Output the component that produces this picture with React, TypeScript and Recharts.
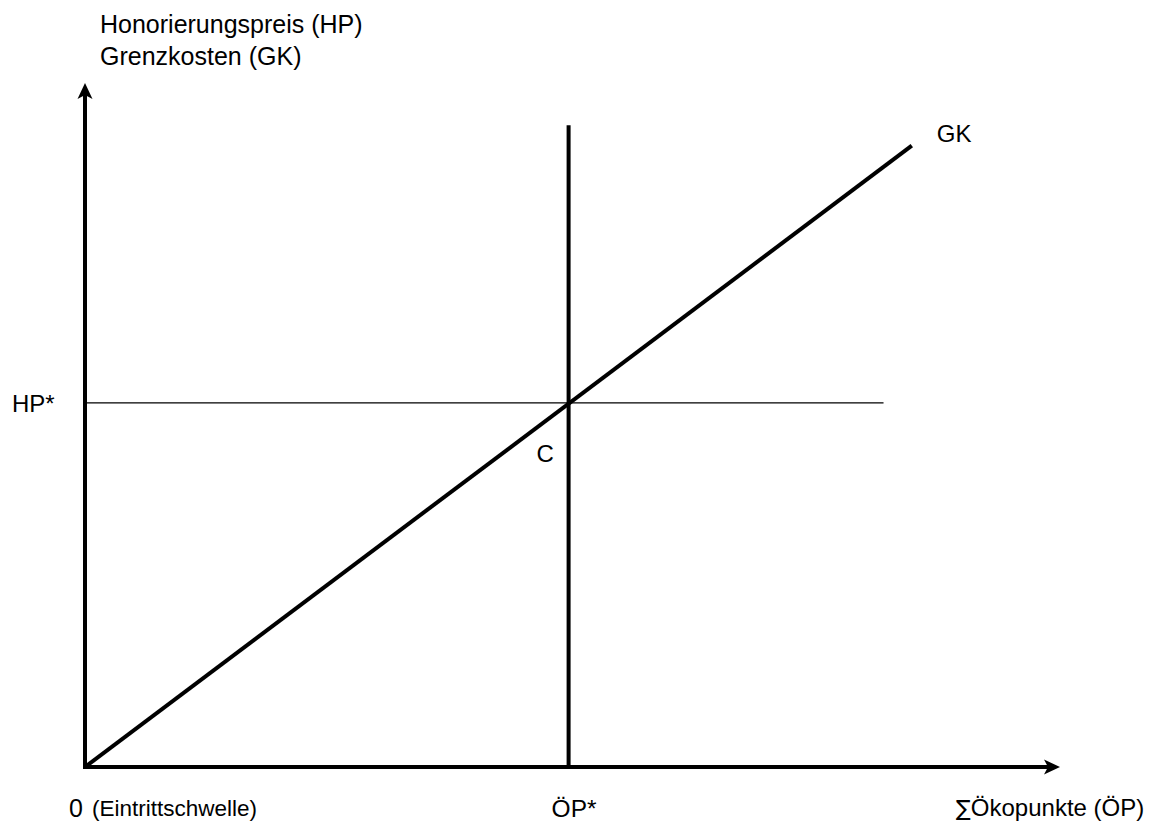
import React from 'react';
import { ComposedChart, Line, XAxis, YAxis, ReferenceLine, ReferenceDot } from 'recharts';

// ---- data (abstract units, domain 0..100 on both axes) ----
const X_DOMAIN: [number, number] = [0, 100];
const Y_DOMAIN: [number, number] = [0, 100];
const OP_STAR = 49.6; // ÖP*
const HP_STAR = 53.4; // HP*
const gkX = [0, 84.8];
const gkY = [0, 91.1];
const hpLineEnd = 81.9;
const opLineTop = 94.1;
const xAxisEnd = 98.8;
const yAxisEnd = 98.5;
const xTicks = [0, OP_STAR];
const xTickLabels = ['0', 'ÖP*'];
const yTicks = [HP_STAR];
const yTickLabels = ['HP*'];
const titleLines = ['Honorierungspreis (HP)', 'Grenzkosten (GK)'];
const sumSign = '\u2211';
const xAxisTitle = 'Ökopunkte (ÖP)';
const curveLabel = 'GK';
const pointLabel = 'C';
const originNote = '(Eintrittschwelle)';

const gkData = gkX.map((x, i) => ({ x, gk: gkY[i] }));

const FONT = '"Liberation Sans", Arial, Helvetica, sans-serif';

const XTick = (props: any) => {
  const { x, y, payload } = props;
  const idx = xTicks.indexOf(payload.value);
  if (idx === 0) {
    return (
      <g>
        <text x={x - 16} y={y + 50} fontSize={25} fontFamily={FONT} fill="#000">{xTickLabels[0]}</text>
        <text x={x + 7} y={y + 49} fontSize={22.5} fontFamily={FONT} fill="#000">{originNote}</text>
      </g>
    );
  }
  return (
    <text x={x - 17} y={y + 50} fontSize={24.5} fontFamily={FONT} fill="#000">{xTickLabels[idx]}</text>
  );
};

const YTick = (props: any) => {
  const { x, y, payload } = props;
  const idx = yTicks.indexOf(payload.value);
  return (
    <text x={x - 73} y={y + 9} fontSize={24} fontFamily={FONT} fill="#000">{yTickLabels[idx]}</text>
  );
};

export default function App() {
  return (
    <div style={{ position: 'absolute', left: 0, top: 0, background: '#fff' }}>
      <ComposedChart width={1160} height={825} margin={{ top: 85, right: 100, left: 0, bottom: 0 }}>
        <XAxis
          type="number"
          dataKey="x"
          domain={X_DOMAIN}
          allowDataOverflow
          ticks={xTicks}
          tick={XTick}
          tickLine={false}
          axisLine={false}
          tickSize={0}
          tickMargin={0}
          height={58}
          interval={0}
        />
        <YAxis
          type="number"
          domain={Y_DOMAIN}
          allowDataOverflow
          ticks={yTicks}
          tick={YTick}
          tickLine={false}
          axisLine={false}
          tickSize={0}
          tickMargin={0}
          width={85}
          interval={0}
        />
        {/* axes */}
        <ReferenceLine
          segment={[{ x: 0, y: 0 }, { x: xAxisEnd, y: 0 }]}
          stroke="#000"
          strokeWidth={4}
          strokeLinecap="square"
          ifOverflow="visible"
        />
        <ReferenceLine
          segment={[{ x: 0, y: 0 }, { x: 0, y: yAxisEnd }]}
          stroke="#000"
          strokeWidth={4}
          strokeLinecap="square"
          ifOverflow="visible"
        />
        <ReferenceDot
          x={X_DOMAIN[1]}
          y={0}
          ifOverflow="visible"
          shape={(p: any) => (
            <polygon
              points={`${p.cx},${p.cy} ${p.cx - 16},${p.cy - 7.5} ${p.cx - 12},${p.cy} ${p.cx - 16},${p.cy + 7.5}`}
              fill="#000"
            />
          )}
        />
        <ReferenceDot
          x={0}
          y={Y_DOMAIN[1]}
          ifOverflow="visible"
          shape={(p: any) => (
            <g>
              <polygon
                points={`${p.cx},${p.cy - 2} ${p.cx - 7.5},${p.cy + 14} ${p.cx},${p.cy + 10} ${p.cx + 7.5},${p.cy + 14}`}
                fill="#000"
              />
              <text x={p.cx + 15} y={p.cy - 52} fontSize={25} fontFamily={FONT} fill="#000">{titleLines[0]}</text>
              <text x={p.cx + 15} y={p.cy - 20} fontSize={25} fontFamily={FONT} fill="#000">{titleLines[1]}</text>
            </g>
          )}
        />
        {/* x axis title */}
        <ReferenceDot
          x={X_DOMAIN[1]}
          y={0}
          ifOverflow="visible"
          shape={(p: any) => (
            <text x={p.cx - 104} y={p.cy + 49} fontSize={24} fontFamily={FONT} fill="#000">
              <tspan fontFamily='"DejaVu Sans", sans-serif' fontSize={22}>{sumSign}</tspan>
              <tspan>{xAxisTitle}</tspan>
            </text>
          )}
        />
        {/* HP* horizontal */}
        <ReferenceLine
          segment={[{ x: 0, y: HP_STAR }, { x: hpLineEnd, y: HP_STAR }]}
          stroke="#000"
          strokeWidth={1.3}
          ifOverflow="visible"
        />
        {/* ÖP* vertical */}
        <ReferenceLine
          segment={[{ x: OP_STAR, y: 0 }, { x: OP_STAR, y: opLineTop }]}
          stroke="#000"
          strokeWidth={4}
          ifOverflow="visible"
        />
        {/* GK curve */}
        <Line
          data={gkData}
          dataKey="gk"
          type="linear"
          stroke="#000"
          strokeWidth={4}
          dot={false}
          activeDot={false}
          isAnimationActive={false}
        />
        <ReferenceDot
          x={gkX[1]}
          y={gkY[1]}
          ifOverflow="visible"
          shape={(p: any) => (
            <text x={p.cx + 25} y={p.cy - 4} fontSize={24} fontFamily={FONT} fill="#000">{curveLabel}</text>
          )}
        />
        <ReferenceDot
          x={OP_STAR}
          y={HP_STAR}
          ifOverflow="visible"
          shape={(p: any) => (
            <text x={p.cx - 32} y={p.cy + 59} fontSize={24} fontFamily={FONT} fill="#000">{pointLabel}</text>
          )}
        />
      </ComposedChart>
    </div>
  );
}
